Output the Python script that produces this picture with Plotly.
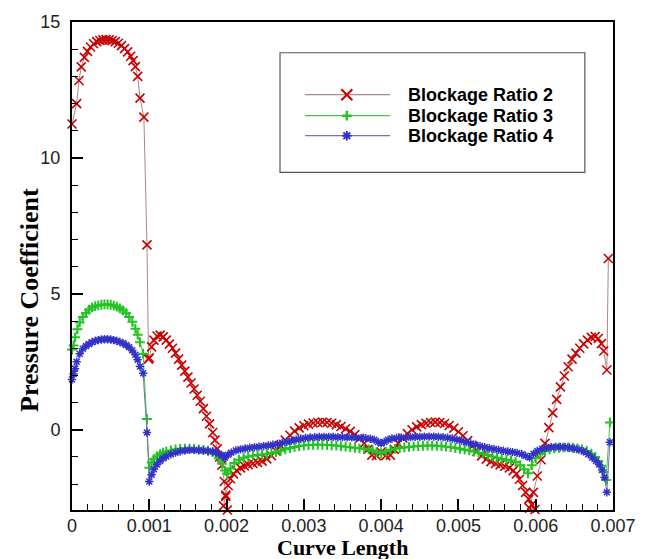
import plotly.graph_objects as go

# ---- axis labels and ticks ----
x_title = "Curve Length"
y_title = "Pressure Coefficient"
x_tick_vals = [0, 0.001, 0.002, 0.003, 0.004, 0.005, 0.006, 0.007]
x_tick_text = ["0", "0.001", "0.002", "0.003", "0.004", "0.005", "0.006", "0.007"]
y_tick_vals = [0, 5, 10, 15]
y_tick_text = ["0", "5", "10", "15"]

series_names = ["Blockage Ratio 2", "Blockage Ratio 3", "Blockage Ratio 4"]

# ---- Blockage Ratio 2 ----
br2_x = [
    0.0, 0.00006, 0.00009, 0.00012, 0.00016, 0.0002, 0.00024, 0.00028, 0.00032, 0.00036,
    0.0004, 0.00044, 0.00048, 0.00052, 0.00056, 0.0006, 0.00064, 0.00068, 0.00072, 0.00076,
    0.00079, 0.00082, 0.00085, 0.00088, 0.00093, 0.00097, 0.00099,
    0.001, 0.00103, 0.00106, 0.0011, 0.00114, 0.00118, 0.00122, 0.00126, 0.0013, 0.00134,
    0.00138, 0.00142, 0.00146, 0.0015, 0.00154, 0.00158, 0.00162, 0.00166, 0.0017, 0.00174,
    0.00178, 0.00182, 0.00185, 0.00188, 0.00191, 0.00194, 0.00197, 0.00199, 0.00201,
    0.00196, 0.00199, 0.00202, 0.00205, 0.00209, 0.00213, 0.00218, 0.00223, 0.00228, 0.00234,
    0.0024, 0.00246, 0.00252, 0.00258, 0.00264, 0.0027, 0.00276, 0.00282, 0.00288, 0.00294,
    0.003, 0.00306, 0.00312, 0.00318, 0.00324, 0.0033, 0.00336, 0.00342, 0.00348, 0.00354,
    0.0036, 0.00366, 0.00372, 0.00378, 0.00383, 0.00388, 0.00394, 0.004,
    0.00406, 0.00412, 0.00417, 0.00422, 0.00428, 0.00434, 0.0044, 0.00446, 0.00452, 0.00458,
    0.00464, 0.0047, 0.00476, 0.00482, 0.00488, 0.00494, 0.005, 0.00506, 0.00512, 0.00518,
    0.00524, 0.0053, 0.00536, 0.00542, 0.00548, 0.00554, 0.0056, 0.00566, 0.00571, 0.00575,
    0.00579, 0.00583, 0.00587, 0.00591, 0.00595, 0.00599,
    0.00592, 0.00597, 0.00602, 0.00607, 0.00612, 0.00617, 0.00622, 0.00627, 0.00632, 0.00637,
    0.00642, 0.00647, 0.00652, 0.00657, 0.00662, 0.00667, 0.00672, 0.00677, 0.00681, 0.00685,
    0.00688, 0.00692, 0.00694,
]
br2_cp = [
    11.25, 12.0, 12.85, 13.35, 13.7, 13.92, 14.08, 14.2, 14.28, 14.32,
    14.34, 14.35, 14.34, 14.32, 14.28, 14.22, 14.13, 14.02, 13.9, 13.74,
    13.58, 13.36, 13.0, 12.2, 11.5, 6.8, 2.6,
    2.65, 3.05, 3.3, 3.45, 3.48, 3.42, 3.3, 3.15, 3.0, 2.82,
    2.6, 2.38, 2.16, 1.94, 1.72, 1.5, 1.27, 1.05, 0.78, 0.5,
    0.22, -0.1, -0.38, -0.7, -1.0, -1.3, -1.9, -2.45, -2.95,
    -2.8, -2.4, -2.05, -1.8, -1.62, -1.5, -1.4, -1.33, -1.28, -1.24,
    -1.2, -1.15, -1.07, -0.95, -0.78, -0.58, -0.38, -0.2, -0.05, 0.07,
    0.15, 0.21, 0.25, 0.27, 0.28, 0.27, 0.24, 0.19, 0.12, 0.04,
    -0.06, -0.18, -0.32, -0.5, -0.72, -0.93, -0.95, -0.82,
    -0.95, -0.93, -0.72, -0.5, -0.3, -0.14, 0.0, 0.11, 0.19, 0.24,
    0.27, 0.28, 0.27, 0.23, 0.16, 0.06, -0.07, -0.22, -0.4, -0.6,
    -0.8, -0.96, -1.08, -1.17, -1.24, -1.29, -1.34, -1.4, -1.5, -1.62,
    -1.82, -2.05, -2.3, -2.55, -2.75, -2.93,
    -2.88, -2.3, -1.7, -1.1, -0.5, 0.08, 0.62, 1.12, 1.58, 1.98,
    2.32, 2.6, 2.82, 3.0, 3.16, 3.3, 3.4, 3.43, 3.36, 3.17,
    2.9, 2.2, 6.3,
]

# ---- Blockage Ratio 3 ----
br3_x = [
    0.0, 0.00002, 0.00004, 0.00007, 0.0001, 0.00014, 0.00018, 0.00022, 0.00026, 0.0003,
    0.00034, 0.00038, 0.00042, 0.00046, 0.0005, 0.00054, 0.00058, 0.00062, 0.00066, 0.0007,
    0.00074, 0.00078, 0.00082, 0.00085, 0.00088, 0.00092, 0.00097,
    0.001, 0.00103, 0.00106, 0.0011, 0.00114, 0.00118, 0.00122, 0.00128, 0.00134, 0.0014,
    0.00146, 0.00152, 0.00158, 0.00164, 0.0017, 0.00176, 0.00182, 0.00186, 0.0019, 0.00194,
    0.00198, 0.00201,
    0.00205, 0.0021, 0.00216, 0.00222, 0.00228, 0.00234, 0.0024, 0.00246, 0.00252, 0.00258,
    0.00264, 0.0027, 0.00276, 0.00282, 0.00288, 0.00294, 0.003, 0.00306, 0.00312, 0.00318,
    0.00324, 0.0033, 0.00336, 0.00342, 0.00348, 0.00354, 0.0036, 0.00366, 0.00372, 0.00378,
    0.00384, 0.00389, 0.00394, 0.004,
    0.00406, 0.00412, 0.00418, 0.00424, 0.0043, 0.00436, 0.00442, 0.00448, 0.00454, 0.0046,
    0.00466, 0.00472, 0.00478, 0.00484, 0.0049, 0.00496, 0.00502, 0.00508, 0.00514, 0.0052,
    0.00526, 0.00532, 0.00538, 0.00544, 0.0055, 0.00556, 0.00562, 0.00568, 0.00574, 0.0058,
    0.00585, 0.0059,
    0.00595, 0.006, 0.00606, 0.00612, 0.00618, 0.00624, 0.0063, 0.00636, 0.00642, 0.00648,
    0.00654, 0.0066, 0.00666, 0.00672, 0.00677, 0.00681, 0.00685, 0.00688, 0.00691, 0.00696,
]
br3_cp = [
    2.95, 3.1, 3.4, 3.7, 3.95, 4.15, 4.3, 4.42, 4.5, 4.55,
    4.58, 4.6, 4.61, 4.61, 4.6, 4.57, 4.53, 4.47, 4.39, 4.29,
    4.15, 3.97, 3.72, 3.5, 3.22, 2.8, 0.4,
    -1.4, -1.2, -1.08, -0.98, -0.9, -0.84, -0.8, -0.76, -0.72, -0.7,
    -0.69, -0.69, -0.7, -0.72, -0.74, -0.77, -0.82, -0.9, -1.05, -1.25,
    -1.5, -1.62,
    -1.42, -1.22, -1.1, -1.03, -0.98, -0.95, -0.93, -0.91, -0.89, -0.86,
    -0.82, -0.77, -0.72, -0.67, -0.63, -0.6, -0.58, -0.56, -0.55, -0.55,
    -0.55, -0.56, -0.57, -0.58, -0.6, -0.62, -0.64, -0.66, -0.68, -0.7,
    -0.72, -0.76, -0.82, -0.86,
    -0.8, -0.73, -0.7, -0.67, -0.65, -0.63, -0.61, -0.6, -0.59, -0.58,
    -0.58, -0.59, -0.6, -0.62, -0.64, -0.67, -0.7, -0.73, -0.76, -0.8,
    -0.84, -0.88, -0.93, -0.98, -1.03, -1.07, -1.1, -1.13, -1.18, -1.3,
    -1.45, -1.6,
    -1.3, -1.05, -0.88, -0.78, -0.72, -0.68, -0.66, -0.65, -0.65, -0.66,
    -0.68, -0.72, -0.78, -0.88, -1.0, -1.15, -1.32, -1.55, -1.85, 0.27,
]

# ---- Blockage Ratio 4 ----
br4_x = [
    0.0, 0.00002, 0.00004, 0.00006, 0.0001, 0.00014, 0.00018, 0.00022, 0.00026, 0.0003,
    0.00034, 0.00038, 0.00042, 0.00046, 0.0005, 0.00054, 0.00058, 0.00062, 0.00066, 0.0007,
    0.00074, 0.00078, 0.00082, 0.00085, 0.00088, 0.00092, 0.00097,
    0.001, 0.00103, 0.00106, 0.0011, 0.00114, 0.00118, 0.00122, 0.00128, 0.00134, 0.0014,
    0.00146, 0.00152, 0.00158, 0.00164, 0.0017, 0.00176, 0.00182, 0.00186, 0.0019, 0.00194,
    0.00198,
    0.00202, 0.00206, 0.00212, 0.00218, 0.00224, 0.0023, 0.00236, 0.00242, 0.00248, 0.00254,
    0.0026, 0.00266, 0.00272, 0.00278, 0.00284, 0.0029, 0.00296, 0.00302, 0.00308, 0.00314,
    0.0032, 0.00326, 0.00332, 0.00338, 0.00344, 0.0035, 0.00356, 0.00362, 0.00368, 0.00374,
    0.0038, 0.00386, 0.00391, 0.00396, 0.004,
    0.00404, 0.00409, 0.00414, 0.0042, 0.00426, 0.00432, 0.00438, 0.00444, 0.0045, 0.00456,
    0.00462, 0.00468, 0.00474, 0.0048, 0.00486, 0.00492, 0.00498, 0.00504, 0.0051, 0.00516,
    0.00522, 0.00528, 0.00534, 0.0054, 0.00546, 0.00552, 0.00558, 0.00564, 0.0057, 0.00576,
    0.00582, 0.00587, 0.00592,
    0.00597, 0.00602, 0.00608, 0.00614, 0.0062, 0.00626, 0.00632, 0.00638, 0.00644, 0.0065,
    0.00656, 0.00662, 0.00668, 0.00673, 0.00678, 0.00682, 0.00686, 0.00689, 0.00692, 0.00696,
]
br4_cp = [
    1.85, 2.05, 2.25, 2.5, 2.8, 2.98, 3.08, 3.16, 3.22, 3.27,
    3.3, 3.32, 3.33, 3.33, 3.32, 3.3, 3.27, 3.23, 3.18, 3.12,
    3.04, 2.92, 2.76, 2.58, 2.33, 2.08, -0.1,
    -1.9, -1.65, -1.45, -1.28, -1.15, -1.05, -0.98, -0.9, -0.84, -0.79,
    -0.76, -0.74, -0.74, -0.75, -0.76, -0.78, -0.8, -0.83, -0.88, -0.95,
    -1.02,
    -0.92, -0.84, -0.76, -0.72, -0.69, -0.66, -0.64, -0.62, -0.6, -0.58,
    -0.55, -0.52, -0.48, -0.44, -0.4, -0.36, -0.33, -0.3, -0.28, -0.27,
    -0.26, -0.26, -0.26, -0.26, -0.27, -0.27, -0.28, -0.28, -0.29, -0.3,
    -0.31, -0.33, -0.37, -0.45, -0.5,
    -0.45, -0.37, -0.32, -0.3, -0.29, -0.28, -0.27, -0.26, -0.26, -0.25,
    -0.25, -0.25, -0.26, -0.27, -0.29, -0.32, -0.36, -0.4, -0.45, -0.5,
    -0.55, -0.6, -0.64, -0.68, -0.71, -0.74, -0.77, -0.8, -0.82, -0.85,
    -0.9, -0.96, -1.02,
    -0.88, -0.78, -0.7, -0.66, -0.64, -0.63, -0.63, -0.64, -0.66, -0.69,
    -0.73, -0.8, -0.9, -1.02, -1.15, -1.28, -1.48, -1.75, -2.3, -0.46,
]

# ---- styling per series ----
line_colors = ["#b08585", "#44c844", "#7474a8"]
marker_colors = ["#c80000", "#22c322", "#3232c8"]
marker_symbols = ["x-thin", "cross-thin", "asterisk"]
marker_sizes = [9, 7, 7]
marker_widths = [1.6, 2.0, 1.5]

AXIS_FONT = "Arial, 'Liberation Sans', sans-serif"
TITLE_FONT = "'Times New Roman', 'Liberation Serif', serif"

fig = go.Figure()

data = [(br2_x, br2_cp), (br3_x, br3_cp), (br4_x, br4_cp)]
for i, (xs, ys) in enumerate(data):
    fig.add_trace(go.Scatter(
        x=xs, y=ys, name=series_names[i], mode="lines+markers",
        line=dict(color=line_colors[i], width=1),
        marker=dict(symbol=marker_symbols[i], size=marker_sizes[i],
                    color=marker_colors[i],
                    line=dict(color=marker_colors[i], width=marker_widths[i])),
        showlegend=False, cliponaxis=False,
    ))

# ---- boxed key in the upper right of the plot area ----
key_rows_y = [0.851, 0.808, 0.767]
key_line_x = (0.431, 0.588)
key_mark_x = 0.508
key_text_x = 0.617
fig.add_shape(type="rect", xref="paper", yref="paper",
              x0=0.3845, x1=0.948, y0=0.692, y1=0.937,
              line=dict(color="#555555", width=1.2), fillcolor="white", layer="below")
key_marker_sizes = [11, 7, 8]
for i, name in enumerate(series_names):
    fig.add_trace(go.Scatter(
        x=list(key_line_x), y=[key_rows_y[i]] * 2, mode="lines",
        line=dict(color=line_colors[i], width=1.2),
        xaxis="x2", yaxis="y2", showlegend=False, hoverinfo="skip",
    ))
    fig.add_trace(go.Scatter(
        x=[key_mark_x], y=[key_rows_y[i]], mode="markers",
        marker=dict(symbol=marker_symbols[i], size=key_marker_sizes[i],
                    color=marker_colors[i],
                    line=dict(color=marker_colors[i], width=marker_widths[i] + 0.4)),
        xaxis="x2", yaxis="y2", showlegend=False, hoverinfo="skip",
    ))
    fig.add_annotation(x=key_text_x, y=key_rows_y[i], xref="paper", yref="paper",
                       text=name, showarrow=False, xanchor="left", yanchor="middle",
                       font=dict(family=AXIS_FONT, size=18, color="black", weight="bold"))

# ---- axis titles ----
fig.add_annotation(x=0.5, y=-0.076, xref="paper", yref="paper", text=x_title,
                   showarrow=False, xanchor="center", yanchor="middle",
                   font=dict(family=TITLE_FONT, size=22, color="black", weight="bold"))
fig.add_annotation(x=-0.08, y=0.43, xref="paper", yref="paper", text=y_title,
                   textangle=-90, showarrow=False, xanchor="center", yanchor="middle",
                   font=dict(family=TITLE_FONT, size=26, color="black", weight="bold"))

axis_common = dict(
    showline=True, linecolor="black", linewidth=2, mirror=True,
    showgrid=False, zeroline=False,
    ticks="inside", ticklen=11, tickwidth=2, tickcolor="black",
    tickfont=dict(family=AXIS_FONT, size=18, color="#222222"),
)

fig.update_layout(
    width=649, height=559,
    margin=dict(l=72, r=36, t=16, b=49),
    paper_bgcolor="white", plot_bgcolor="white",
    showlegend=False,
    xaxis=dict(
        range=[0, 0.007], tickmode="array", tickvals=x_tick_vals, ticktext=x_tick_text,
        ticklabelstandoff=-2,
        minor=dict(ticks="inside", ticklen=6, tickwidth=1, tickcolor="black",
                   tickmode="linear", tick0=0, dtick=0.0002, showgrid=False),
        **axis_common,
    ),
    yaxis=dict(
        range=[-2.95, 15], tickmode="array", tickvals=y_tick_vals, ticktext=y_tick_text,
        ticklabelstandoff=6,
        minor=dict(ticks="inside", ticklen=6, tickwidth=1, tickcolor="black",
                   tickmode="linear", tick0=0, dtick=1, showgrid=False),
        **axis_common,
    ),
    xaxis2=dict(range=[0, 1], overlaying="x", visible=False, anchor="y2"),
    yaxis2=dict(range=[0, 1], overlaying="y", visible=False, anchor="x2"),
)

fig.write_html("out.html")
